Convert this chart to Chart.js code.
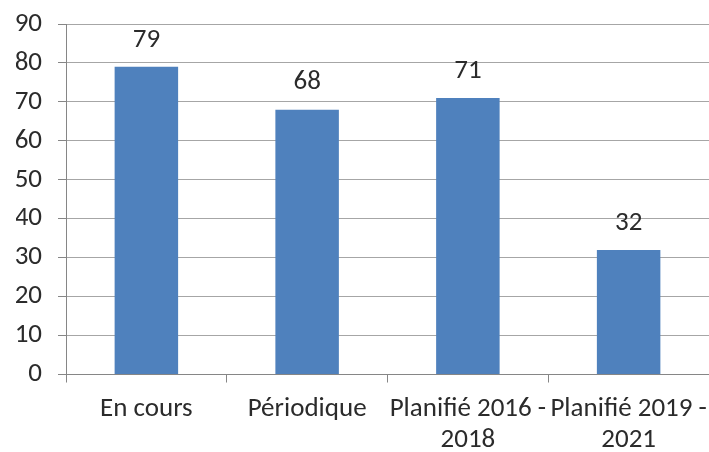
<!DOCTYPE html>
<html>
<head>
<meta charset="utf-8">
<script src="https://cdn.jsdelivr.net/npm/chart.js@4/dist/chart.umd.min.js"></script>
<style>
  html, body { margin: 0; padding: 0; background: #fff; overflow: hidden; }
  #wrap { width: 709px; height: 452px; position: relative; }
</style>
</head>
<body>
<div id="wrap"><canvas id="c"></canvas></div>
<script>
// Categories (multi-line where the label wraps) and counts per category
const categories = [
  'En cours',
  'Périodique',
  ['Planifié 2016 -', '2018'],
  ['Planifié 2019 -', '2021']
];
const counts = [79, 68, 71, 32];
const yTicks = [0, 10, 20, 30, 40, 50, 60, 70, 80, 90];

const FONT = 'Carlito, Lato, "Open Sans", sans-serif';
const TEXT = '#2b2b2b';
const SIZE = 27;

// Writes each bar's value above it
const valueLabels = {
  id: 'valueLabels',
  afterDatasetsDraw(chart) {
    const ctx = chart.ctx;
    const meta = chart.getDatasetMeta(0);
    ctx.save();
    ctx.font = SIZE + 'px ' + FONT;
    ctx.fillStyle = TEXT;
    ctx.textAlign = 'center';
    ctx.textBaseline = 'middle';
    meta.data.forEach((bar, i) => {
      ctx.fillText(String(counts[i]), bar.x, bar.y - 27);
    });
    ctx.restore();
  }
};

new Chart(document.getElementById('c'), {
  type: 'bar',
  data: {
    labels: categories,
    datasets: [{
      data: counts,
      backgroundColor: '#4F81BD',
      borderWidth: 0,
      categoryPercentage: 1,
      barPercentage: 0.395
    }]
  },
  options: {
    responsive: true,
    maintainAspectRatio: false,
    animation: false,
    layout: { padding: { top: 24, left: 16, right: -3, bottom: -15 } },
    plugins: { legend: { display: false }, tooltip: { enabled: false } },
    scales: {
      x: {
        offset: true,
        afterFit(scale) {
          // labels may run to the edge; keep the plot area full width
          scale.paddingLeft = 0;
          scale.paddingRight = 0;
        },
        grid: {
          offset: true,
          drawOnChartArea: false,
          drawTicks: true,
          tickLength: 8,
          color: '#868686'
        },
        border: { color: '#868686', width: 1 },
        ticks: {
          color: TEXT,
          font: { family: FONT, size: SIZE, lineHeight: 1.12 },
          padding: 12,
          maxRotation: 0,
          autoSkip: false
        }
      },
      y: {
        min: 0,
        max: 90,
        afterBuildTicks(scale) {
          scale.ticks = yTicks.map(v => ({ value: v }));
        },
        afterFit(scale) {
          scale.width = 50;
          scale.paddingTop = 0;
          scale.paddingBottom = 0;
        },
        grid: {
          color: '#A6A6A6',
          lineWidth: 1,
          drawTicks: true,
          tickLength: 8,
          tickColor: '#868686'
        },
        border: { color: '#868686', width: 1 },
        ticks: {
          color: TEXT,
          font: { family: FONT, size: SIZE },
          padding: 16
        }
      }
    }
  },
  plugins: [valueLabels]
});
</script>
</body>
</html>
